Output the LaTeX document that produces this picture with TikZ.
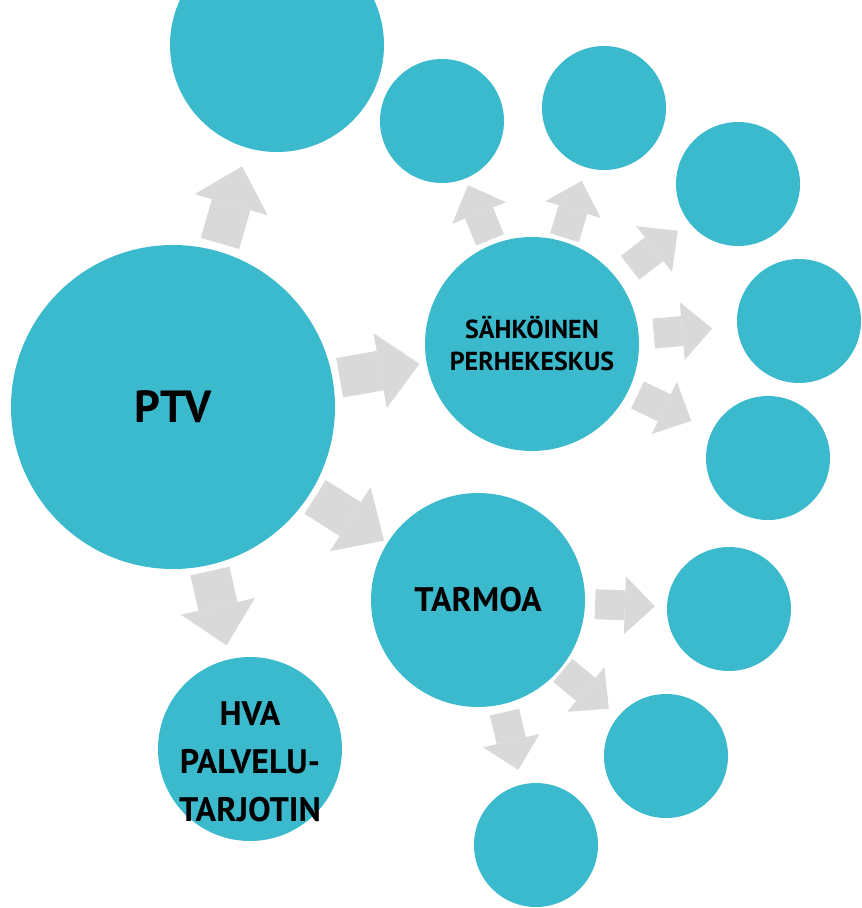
\documentclass[tikz,border=0pt]{standalone}
\usepackage{fontspec}
\setmainfont{PT Sans}
\usetikzlibrary{arrows.meta}

\definecolor{bubble}{RGB}{59,185,205}
\definecolor{arrowgrey}{RGB}{217,217,217}

\begin{document}
\begin{tikzpicture}[
  x=1pt, y=-1pt,
  circ/.style={circle, fill=bubble, inner sep=0pt, align=center, font=\bfseries},
  bigarrow/.style={arrowgrey, line width=40pt, -{Triangle[length=40pt, width=76pt, line width=0pt]}},
  smallarrow/.style={arrowgrey, line width=30pt, -{Triangle[length=30pt, width=58pt, line width=0pt]}}
]
\useasboundingbox (0,0) rectangle (862,908);

% Main
\node[circ, minimum size=324pt, font=\bfseries\fontsize{45}{52}\selectfont] (ptv) at (173,407) {PTV};

% Second level
\node[circ, minimum size=214pt] (top) at (277,45) {};
\node[circ, minimum size=214pt, font=\bfseries\fontsize{26}{32}\selectfont] (sahko) at (532,344) {SÄHKÖINEN\\PERHEKESKUS};
\node[circ, minimum size=214pt, font=\bfseries\fontsize{34}{40}\selectfont] (tarmoa) at (478,600) {TARMOA};
\node[circ, minimum size=184pt, font=\bfseries\fontsize{34}{48}\selectfont] (hva) at (250,749)
  {\makebox[0pt]{\raisebox{-21pt}[0pt][0pt]{\begin{tabular}{@{}c@{}}HVA\\PALVELU-\\TARJOTIN\end{tabular}}}};

% Third level
\node[circ, minimum size=124pt] (s1) at (442,121) {};
\node[circ, minimum size=124pt] (s2) at (604,108) {};
\node[circ, minimum size=124pt] (s3) at (738,184) {};
\node[circ, minimum size=124pt] (s4) at (799,321) {};
\node[circ, minimum size=124pt] (s5) at (768,458) {};
\node[circ, minimum size=124pt] (t1) at (729,609) {};
\node[circ, minimum size=124pt] (t2) at (666,756) {};
\node[circ, minimum size=124pt] (t3) at (536,845) {};

% Arrows
\draw[bigarrow, shorten <=8pt, shorten >=19pt] (ptv) -- (top);
\draw[bigarrow, shorten <=7pt, shorten >=7pt] (ptv) -- (sahko);
\draw[bigarrow, shorten <=6pt, shorten >=4pt] (ptv) -- (tarmoa);
\draw[bigarrow, shorten <=6pt, shorten >=14pt] (ptv) -- (hva);

\draw[smallarrow, shorten <=5pt, shorten >=7pt] (sahko) -- (s1);
\draw[smallarrow, shorten <=4pt, shorten >=14pt] (sahko) -- (s2);
\draw[smallarrow, shorten <=17pt, shorten >=14pt] (sahko) -- (s3);
\draw[smallarrow, shorten <=15pt, shorten >=25pt] (sahko) -- (s4);
\draw[smallarrow, shorten <=10pt, shorten >=23pt] (sahko) -- (s5);

\draw[smallarrow, shorten <=10pt, shorten >=12pt] (tarmoa) -- (t1);
\draw[smallarrow, shorten <=3pt, shorten >=12pt] (tarmoa) -- (t2);
\draw[smallarrow, shorten <=8pt, shorten >=15pt] (tarmoa) -- (t3);

\end{tikzpicture}
\end{document}
